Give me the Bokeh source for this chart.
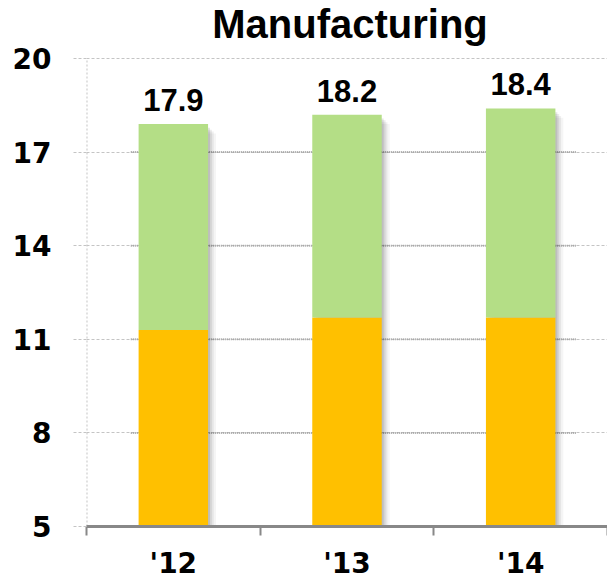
import numpy as np
from bokeh.plotting import figure
from bokeh.models import Range1d, FixedTicker
from bokeh.core.properties import value
from bokeh.embed import file_html
from bokeh.resources import INLINE

# ---- data ----
years = ["'12", "'13", "'14"]
base_vals = [11.3, 11.7, 11.7]      # orange segment (from 5 baseline)
totals = [17.9, 18.2, 18.4]         # top of green segment
total_labels = ["17.9", "18.2", "18.4"]
y_ticks = [5, 8, 11, 14, 17, 20]
title_text = "Manufacturing"

ORANGE = "#FFC000"
GREEN = "#B4DE86"

x = np.arange(len(years)) + 0.5
bar_w = 0.4
y0 = y_ticks[0]
y_top = y_ticks[-1]

# frame extends to the top of the canvas so the title can be drawn inside it
p = figure(width=607, height=582, output_backend="svg", toolbar_location=None,
           x_range=Range1d(0, len(years)), y_range=Range1d(y0, 21.86),
           min_border_left=86, min_border_right=0, min_border_top=0,
           min_border_bottom=56)
p.outline_line_color = None
p.background_fill_color = "white"
p.border_fill_color = "white"

# grid
p.xgrid.grid_line_color = None
p.ygrid.ticker = FixedTicker(ticks=y_ticks)
p.ygrid.grid_line_color = "#c4c4c4"
p.ygrid.grid_line_dash = "3 2"
p.ygrid.grid_line_width = 1

# left dotted axis line (only over the value range)
p.segment(x0=[0], x1=[0], y0=[y0], y1=[y_top], line_color="#c4c4c4",
          line_width=2, line_dash="2 2")

# darker dotted grid segments across the bar region
inner = y_ticks[1:-1]
p.segment(x0=[x[0] - bar_w / 2 - 0.045] * len(inner), x1=[x[-1] + bar_w / 2 + 0.12] * len(inner),
          y0=inner, y1=inner, line_color="#a0a0a0", line_width=2, line_dash="1 1")

# bar shadows
tot = np.array(totals)
for k, (dx, a) in enumerate([(0.011, 0.10), (0.022, 0.08), (0.033, 0.06), (0.046, 0.04)]):
    p.vbar(x=x + dx, width=bar_w, bottom=y0, top=tot - 0.12 - 0.06 * k,
           fill_color="black", fill_alpha=a, line_color=None)

# stacked bars
p.vbar(x=x, width=bar_w, bottom=y0, top=base_vals, fill_color=ORANGE, line_color=None)
p.vbar(x=x, width=bar_w, bottom=base_vals, top=totals, fill_color=GREEN, line_color=None)

# value labels
p.text(x=x, y=totals, text=total_labels, text_align="center", text_baseline="alphabetic",
       y_offset=-24, text_font=value("Liberation Sans"), text_font_style="bold",
       text_font_size="31px", text_color="black")

# title
p.text(x=[len(years) / 2], y=[y_top], text=[title_text], text_align="center",
       text_baseline="alphabetic", x_offset=3, y_offset=-35,
       text_font=value("Liberation Sans"), text_font_style="bold",
       text_font_size="40px", text_color="black")

# x axis
xa = p.xaxis[0]
xa.ticker = FixedTicker(ticks=list(x), minor_ticks=list(range(len(years) + 1)))
xa.major_label_overrides = {float(xi): yr for xi, yr in zip(x, years)}
xa.axis_line_color = "#888888"
xa.axis_line_width = 3
xa.major_tick_line_color = None
xa.major_tick_out = 0
xa.major_tick_in = 0
xa.minor_tick_out = 9
xa.minor_tick_in = 0
xa.minor_tick_line_color = "#888888"
xa.minor_tick_line_width = 2
xa.major_label_text_font = "DejaVu Sans"
xa.major_label_text_font_style = "bold"
xa.major_label_text_font_size = "28px"
xa.major_label_text_color = "black"
xa.major_label_standoff = 11

# y axis
ya = p.yaxis[0]
ya.ticker = FixedTicker(ticks=y_ticks)
ya.axis_line_color = None
ya.major_tick_out = 13
ya.major_tick_in = 0
ya.major_tick_line_color = "#c4c4c4"
ya.major_tick_line_dash = "3 2"
ya.minor_tick_line_color = None
ya.major_label_text_font = "DejaVu Sans"
ya.major_label_text_font_style = "bold"
ya.major_label_text_font_size = "28px"
ya.major_label_text_color = "black"
ya.major_label_standoff = 22

open("out.html", "w").write(file_html(p, INLINE))
